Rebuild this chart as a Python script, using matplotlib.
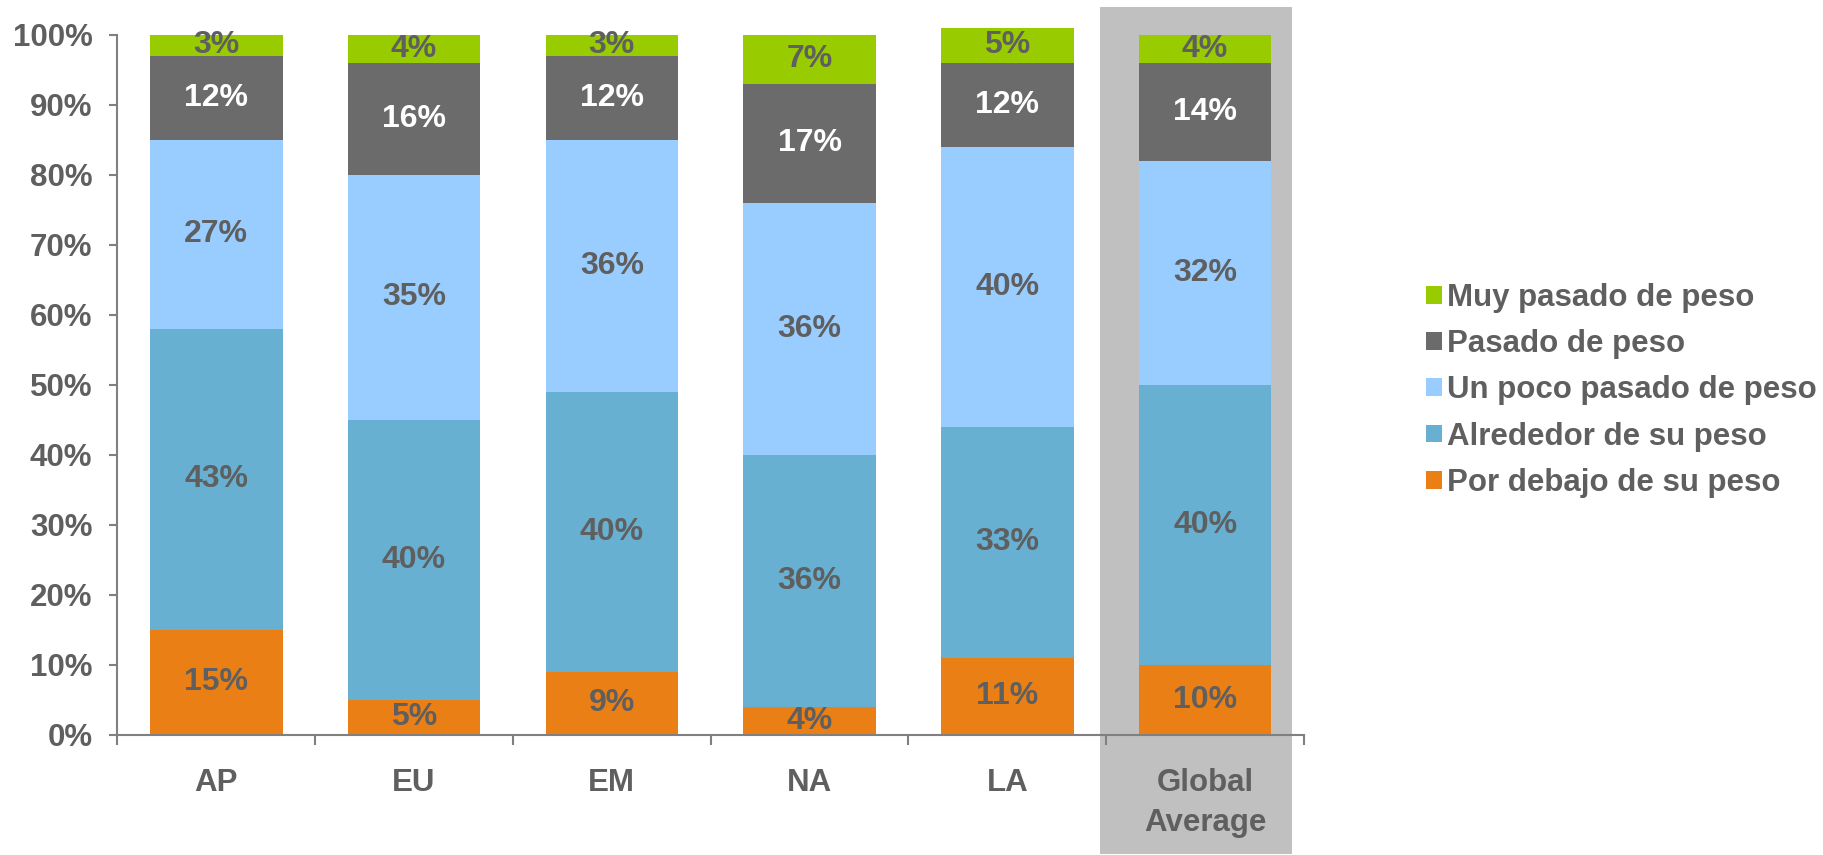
import matplotlib
matplotlib.use("Agg")
import matplotlib.pyplot as plt
from matplotlib.patches import Rectangle, Patch
import numpy as np

plt.rcParams['font.family'] = ['Liberation Sans', 'DejaVu Sans']
plt.rcParams['font.weight'] = 'bold'

# data (percent)
regions = ["AP", "EU", "EM", "NA", "LA", "Global\nAverage"]
por_debajo = [15, 5, 9, 4, 11, 10]
alrededor = [43, 40, 40, 36, 33, 40]
un_poco = [27, 35, 36, 36, 40, 32]
pasado = [12, 16, 12, 17, 12, 14]
muy_pasado = [3, 4, 3, 7, 5, 4]

series = [
    ("Por debajo de su peso", por_debajo, "#EA8015", "#5F5F5F"),
    ("Alrededor de su peso", alrededor, "#67B0D1", "#5F5F5F"),
    ("Un poco pasado de peso", un_poco, "#99CCFF", "#5F5F5F"),
    ("Pasado de peso", pasado, "#6B6B6B", "white"),
    ("Muy pasado de peso", muy_pasado, "#99CC00", "#5F5F5F"),
]

text_grey = "#5F5F5F"
axis_grey = "#808080"

fig = plt.figure(figsize=(18.23, 8.55), dpi=100)
ax = fig.add_axes([0.0644, 0.1406, 0.6509, 0.8186])

x = np.arange(len(regions))

# grey highlight behind global average
ax.add_patch(Rectangle((4.47, -17.1), 0.97, 121.1, facecolor="#C0C0C0",
                       edgecolor="none", zorder=0, clip_on=False))

bottom = np.zeros(len(regions))
handles = []
for name, vals, color, lab_col in series:
    vals = np.array(vals, dtype=float)
    ax.bar(x, vals, width=0.67, bottom=bottom, color=color, zorder=2,
           clip_on=False)
    for xi, b, v in zip(x, bottom, vals):
        ax.text(xi, b + v / 2, f"{int(v)}%", ha="center", va="center",
                fontsize=23, color=lab_col, fontweight="bold", zorder=3)
    bottom += vals
    handles.append(Patch(facecolor=color, label=name))

ax.set_xlim(-0.5, 5.5)
ax.set_ylim(0, 100)
ax.set_yticks(np.arange(0, 101, 10))
ax.set_yticklabels([f"{v}%" for v in range(0, 101, 10)])
ax.set_xticks(np.arange(-0.5, 5.6, 1))
ax.set_xticklabels([])
ax.set_xticks(x, minor=True)
ax.set_xticklabels(regions, minor=True, linespacing=1.45)

ax.tick_params(axis="y", which="major", direction="out", length=6, width=1.5,
               color=axis_grey, labelsize=22.5, labelcolor=text_grey, pad=12)
ax.tick_params(axis="x", which="major", direction="out", length=7, width=1.5,
               color=axis_grey)
ax.tick_params(axis="x", which="minor", length=0, labelsize=22.5,
               labelcolor=text_grey, pad=24)

for s in ["top", "right"]:
    ax.spines[s].set_visible(False)
for s in ["left", "bottom"]:
    ax.spines[s].set_color(axis_grey)
    ax.spines[s].set_linewidth(1.5)
    ax.spines[s].set_zorder(4)

leg = fig.legend(handles=handles[::-1], loc="center left",
                 bbox_to_anchor=(0.767, 0.5435), frameon=False, fontsize=22.5,
                 handlelength=0.5, handleheight=0.5, handletextpad=0.15,
                 labelspacing=0.52, labelcolor=text_grey)

fig.savefig("out.png", dpi=100)
